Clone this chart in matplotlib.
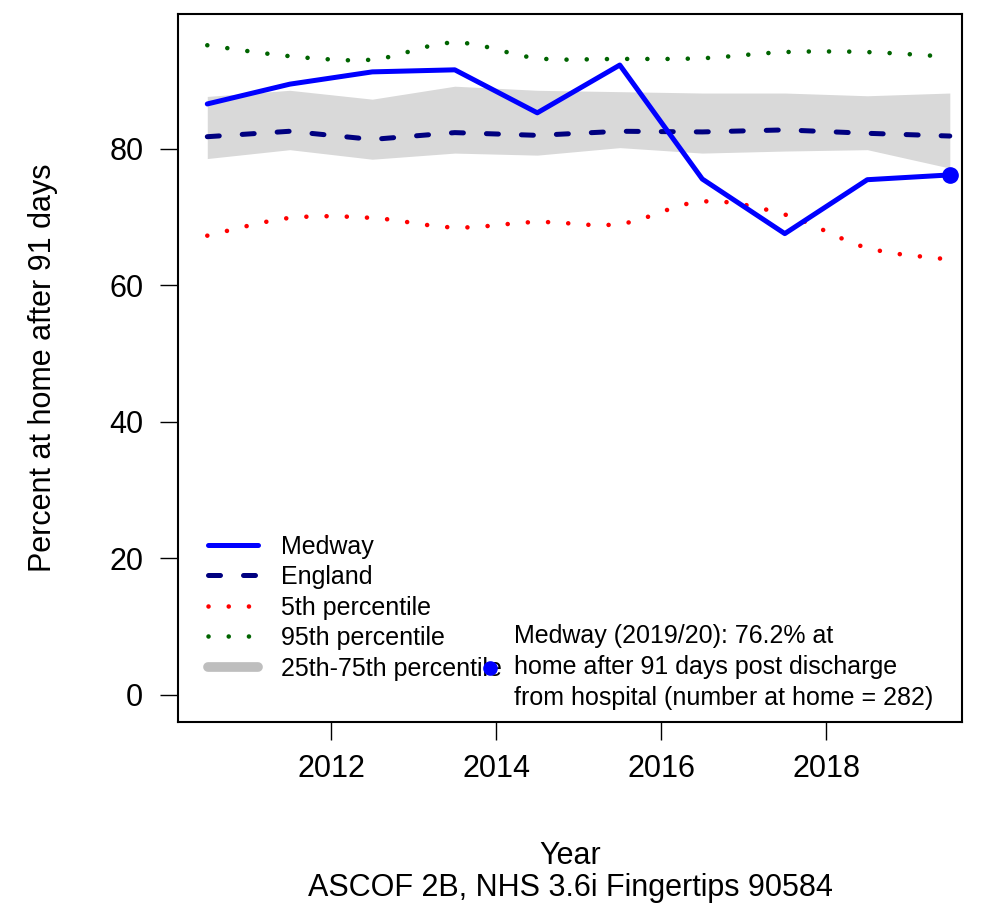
import numpy as np
import matplotlib
matplotlib.use("Agg")
import matplotlib.pyplot as plt
from matplotlib.path import Path
from matplotlib.patches import PathPatch
from matplotlib.lines import Line2D

plt.rcParams['font.family'] = ['Liberation Sans', 'DejaVu Sans']

# data
years = [2010.5, 2011.5, 2012.5, 2013.5, 2014.5, 2015.5, 2016.5, 2017.5, 2018.5, 2019.5]
medway = [86.6, 89.5, 91.3, 91.6, 85.3, 92.3, 75.6, 67.6, 75.5, 76.2]
england = [81.8, 82.6, 81.4, 82.4, 82.0, 82.6, 82.5, 82.8, 82.3, 81.9]
p25 = [78.6, 79.9, 78.5, 79.4, 79.1, 80.2, 79.4, 79.7, 79.9, 77.2]
p75 = [87.7, 88.6, 87.3, 89.2, 88.6, 88.4, 88.2, 88.2, 87.8, 88.2]
p5 = [67.3, 69.9, 69.9, 68.5, 69.3, 69.0, 72.3, 70.4, 65.5, 63.8]
p95 = [95.2, 93.6, 93.1, 95.6, 93.3, 93.2, 93.3, 94.2, 94.2, 93.5]
note = ("Medway (2019/20): 76.2% at\n"
        "home after 91 days post discharge\n"
        "from hospital (number at home = 282)")

dotted = (0, (0.01, 4.4))


def smooth_path(x, y):
    # catmull-rom through the points, as cubic bezier segments
    p = np.column_stack([x, y]).astype(float)
    ext = np.vstack([p[0], p, p[-1]])
    verts = [p[0]]
    codes = [Path.MOVETO]
    for i in range(len(p) - 1):
        a, b, c, d = ext[i], ext[i + 1], ext[i + 2], ext[i + 3]
        verts += [b + (c - a) / 6, c - (d - b) / 6, c]
        codes += [Path.CURVE4] * 3
    return Path(verts, codes)


fig = plt.figure(figsize=(9.86, 9.11), dpi=100)
ax = fig.add_axes([178 / 986, 1 - 722 / 911, 784 / 986, 708 / 911])

ax.fill_between(years, p25, p75, color="#D9D9D9", lw=0)
ax.plot(years, england, color="#000080", lw=3.6, dashes=(2.4, 4.6),
        dash_capstyle="round", label="England")
ax.plot(years, medway, color="blue", lw=3.6, solid_capstyle="round",
        solid_joinstyle="round", label="Medway")
ax.plot(years[-1:], medway[-1:], "o", color="blue", ms=11)

for vals, col in [(p5, "red"), (p95, "#006400")]:
    ax.add_patch(PathPatch(smooth_path(years, vals), fill=False, edgecolor=col,
                           lw=3.3, linestyle=dotted, capstyle="round"))

ax.set_xlim(2010.145, 2019.648)
ax.set_ylim(-3.96, 99.78)
ax.set_xticks([2012, 2014, 2016, 2018])
ax.set_yticks([0, 20, 40, 60, 80])
ax.tick_params(length=13, width=1, labelsize=22)
ax.tick_params(axis="x", pad=10)
ax.tick_params(axis="y", pad=12)
for s in ax.spines.values():
    s.set_linewidth(1.5)

ax.set_xlabel("Year\nASCOF 2B, NHS 3.6i Fingertips 90584", fontsize=22,
              labelpad=41, linespacing=1.1)
ax.set_ylabel("Percent at home after 91 days", fontsize=22, labelpad=37)

handles = [
    Line2D([], [], color="blue", lw=3.6, solid_capstyle="round"),
    Line2D([], [], color="#000080", lw=3.6, dashes=(2.4, 4.6), dash_capstyle="round"),
    Line2D([], [], color="red", lw=3.3, linestyle=dotted, dash_capstyle="round"),
    Line2D([], [], color="#006400", lw=3.3, linestyle=dotted, dash_capstyle="round"),
    Line2D([], [], color="#BEBEBE", lw=7, solid_capstyle="round"),
]
labels = ["Medway", "England", "5th percentile", "95th percentile", "25th-75th percentile"]
leg = ax.legend(handles, labels, loc="upper left", bbox_to_anchor=(0.0383, 0.2647),
                frameon=False, fontsize=18, handlelength=2.0, handletextpad=0.9,
                labelspacing=0.26, borderpad=0, borderaxespad=0)
ax.add_artist(leg)

dot = Line2D([], [], color="blue", marker="o", ms=9.5, lw=0)
leg2 = ax.legend([dot], [note], loc="center left", bbox_to_anchor=(0.388, 0.0777),
                 frameon=False, fontsize=18, handlelength=0.6, handletextpad=0.66,
                 borderpad=0, borderaxespad=0)
for t in leg2.get_texts():
    t.set_linespacing(1.39)

fig.savefig("out.png", dpi=100)
